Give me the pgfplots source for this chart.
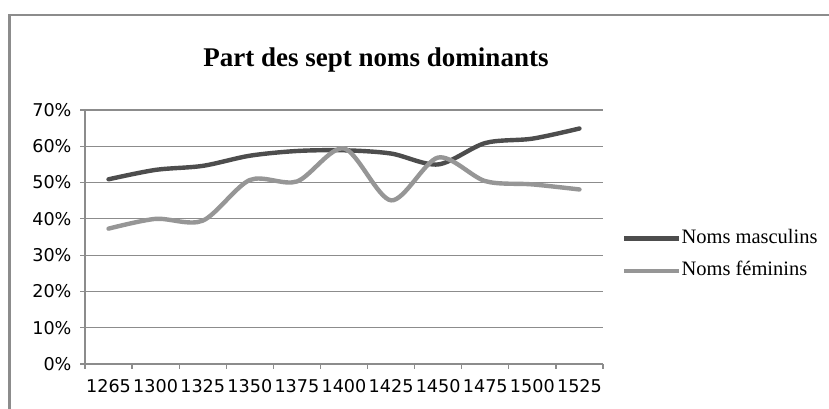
\documentclass[border=0pt]{standalone}
\usepackage{fontspec}
\setmainfont{Liberation Serif}
\newfontfamily\tickfont{DejaVu Sans}
\usepackage{pgfplots}
\pgfplotsset{compat=1.18}
\definecolor{masc}{RGB}{77,77,77}
\definecolor{fem}{RGB}{150,150,150}
\definecolor{gridc}{RGB}{140,140,140}
\begin{document}
\begin{tikzpicture}
\useasboundingbox (0,0) rectangle (829pt,409pt);
\fill[white] (0,0) rectangle (829pt,409pt);
\draw[gridc, line width=2.5pt] (9.3pt,0) -- (9.3pt,394pt) -- (829pt,394pt);
\begin{axis}[
  at={(85pt,45pt)}, anchor=south west,
  scale only axis, width=518pt, height=254pt,
  xmin=-0.5, xmax=10.5, ymin=0, ymax=70,
  axis x line*=bottom, axis y line*=left,
  axis line style={gridc, line width=1.2pt},
  xtick={0,...,10},
  xticklabels={1265,1300,1325,1350,1375,1400,1425,1450,1475,1500,1525},
  minor xtick={-0.5,0.5,...,10.5},
  major x tick style={draw=none},
  minor x tick style={draw=gridc, line width=1.2pt},
  minor tick length=5pt,
  major tick length=5pt,
  tick align=outside,
  ytick={0,10,20,30,40,50,60,70},
  yticklabels={0\%,10\%,20\%,30\%,40\%,50\%,60\%,70\%},
  y tick style={draw=gridc, line width=1.2pt},
  ymajorgrids,
  major grid style={gridc, line width=1.2pt},
  ticklabel style={font=\tickfont\fontsize{17.6}{19}\selectfont, text=black},
  yticklabel style={xshift=-5pt},
  xticklabel style={yshift=-6.8pt},
  title={Part des sept noms dominants},
  title style={font=\bfseries\fontsize{27}{30}\selectfont, at={(axis description cs:0.5618,1.1457)}, anchor=base},
  legend style={draw=none, fill=none, inner sep=0pt,
    font=\fontsize{20.5}{24}\selectfont,
    at={(axis description cs:1.0361,0.43)}, anchor=west,
    row sep=13pt,
    nodes={inner sep=0.2pt, text height=14pt, text depth=5pt}},
  legend cell align=left,
  legend image code/.code={\draw[#1, line cap=butt] (0pt,0pt) -- (55pt,0pt);},
]
\addplot[masc, line width=4.4pt, smooth, line cap=round, line join=round] coordinates {
 (0,50.9) (1,53.5) (2,54.6) (3,57.4) (4,58.7) (5,58.9) (6,58.0) (7,55.0) (8,60.9) (9,62.1) (10,64.9)};
\addlegendentry{Noms masculins}
\addplot[fem, line width=4.4pt, smooth, line cap=round, line join=round] coordinates {
 (0,37.3) (1,40.0) (2,39.5) (3,50.7) (4,50.3) (5,59.4) (6,45.1) (7,56.9) (8,50.4) (9,49.5) (10,48.1)};
\addlegendentry{Noms féminins}
\end{axis}
\end{tikzpicture}
\end{document}
